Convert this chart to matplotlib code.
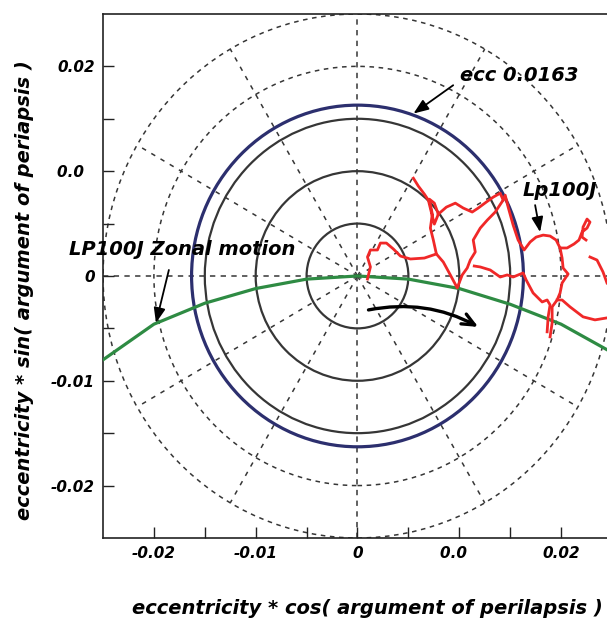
import numpy as np
import matplotlib
matplotlib.use("Agg")
import matplotlib.pyplot as plt
from matplotlib.patches import Circle

plt.rcParams['font.family'] = ['DejaVu Sans']

# Reference rings (eccentricity values)
solid_radii = [0.005, 0.010, 0.015]
dashed_radii = [0.020, 0.025]
ecc_radius = 0.0163
spoke_angles = [30, 60, 120, 150, 210, 240, 300, 330]
spoke_len = 0.025

# Zonal motion curve
green_x = [-0.025, -0.020, -0.015, -0.010, -0.005, 0.0, 0.005, 0.010, 0.015, 0.020, 0.025]
green_y = [-0.0080, -0.0046, -0.0026, -0.0012, -0.0003, 0.0, -0.0003, -0.0012, -0.0027, -0.0046, -0.0073]

# Lp100J trajectory, traced in pieces
lp_segments = [
    [(0.00549, 0.00933), (0.00598, 0.00857), (0.00657, 0.00781), (0.00696, 0.00724),
     (0.00725, 0.00610), (0.00755, 0.00495), (0.00794, 0.00590), (0.00755, 0.00695),
     (0.00706, 0.00733), (0.00735, 0.00590), (0.00716, 0.00457), (0.00745, 0.00343),
     (0.00775, 0.00210), (0.00657, 0.00171), (0.00520, 0.00162), (0.00422, 0.00190),
     (0.00353, 0.00257), (0.00284, 0.00314), (0.00225, 0.00314), (0.00196, 0.00248),
     (0.00127, 0.00248), (0.00098, 0.00181), (0.00127, 0.00086), (0.00098, -0.00029)],
    [(0.00775, 0.00210), (0.00843, 0.00133), (0.00912, 0.00010), (0.00980, -0.00114),
     (0.01029, 0.00010), (0.01078, 0.00076), (0.01108, 0.00152), (0.01157, 0.00229),
     (0.01137, 0.00343), (0.01206, 0.00457), (0.01275, 0.00533), (0.01353, 0.00610),
     (0.01431, 0.00724), (0.01402, 0.00790), (0.01333, 0.00752), (0.01265, 0.00705),
     (0.01186, 0.00648), (0.01127, 0.00610), (0.01039, 0.00648), (0.00961, 0.00695),
     (0.00873, 0.00657), (0.00794, 0.00590)],
    [(0.01431, 0.00724), (0.01451, 0.00771), (0.01480, 0.00657), (0.01529, 0.00486),
     (0.01578, 0.00343), (0.01637, 0.00248), (0.01696, 0.00324), (0.01755, 0.00371),
     (0.01824, 0.00390), (0.01892, 0.00381), (0.01951, 0.00343), (0.01990, 0.00267),
     (0.02059, 0.00267), (0.02127, 0.00305), (0.02176, 0.00343), (0.02206, 0.00419),
     (0.02255, 0.00457), (0.02284, 0.00514), (0.02255, 0.00543), (0.02216, 0.00467),
     (0.02206, 0.00371), (0.02245, 0.00343)],
    [(0.01990, 0.00267), (0.02010, 0.00171), (0.02020, 0.00076), (0.02069, 0.00019),
     (0.02010, -0.00067), (0.01990, -0.00162), (0.01961, -0.00229), (0.01912, -0.00295),
     (0.01912, -0.00448), (0.01892, -0.00581)],
    [(0.01961, -0.00229), (0.02010, -0.00229), (0.02088, -0.00295), (0.02216, -0.00390),
     (0.02333, -0.00419), (0.02451, -0.00400)],
    [(0.02284, 0.00181), (0.02353, 0.00152), (0.02412, 0.00038), (0.02451, -0.00067)],
    [(0.01147, 0.00095), (0.01206, 0.00086), (0.01304, 0.00057), (0.01402, -0.00010),
     (0.01471, 0.00010), (0.01529, -0.00010), (0.01627, 0.00029), (0.01657, -0.00038),
     (0.01725, -0.00162), (0.01814, -0.00248), (0.01863, -0.00229), (0.01892, -0.00276),
     (0.01873, -0.00390), (0.01863, -0.00533)],
]

# Motion arrow (start, end)
motion_start = (0.00108, -0.00324)
motion_end = (0.01186, -0.00486)

x_ticks = [-0.02, -0.01, 0.0, 0.01, 0.02]
x_ticklabels = ["-0.02", "-0.01", "0", "0.0\u2007", "0.02"]
y_ticks = [-0.02, -0.01, 0.0, 0.01, 0.02]
y_ticklabels = ["-0.02", "-0.01", "0", "0.0\u2007", "0.02"]

gray = '#363636'
navy = '#2c2f6e'
green = '#2e8b43'
red = '#f02828'
bold_it = dict(fontweight='bold', fontstyle='italic')

fig = plt.figure(figsize=(6.07, 6.21), dpi=100)
ax = fig.add_axes([0.1697, 0.1337, 0.8385, 0.8438])
ax.set_xlim(-0.025, 0.025)
ax.set_ylim(-0.025, 0.025)

# dashed grid: axes cross, rings, spokes
ax.axhline(0, color=gray, lw=1.1, ls=(0, (3.5, 3.5)), zorder=1)
ax.axvline(0, color=gray, lw=1.1, ls=(0, (3.5, 3.5)), zorder=1)
for r in dashed_radii:
    ax.add_patch(Circle((0, 0), r, fill=False, ec=gray, lw=1.1, ls=(0, (3, 3)), zorder=1))
for a in spoke_angles:
    t = np.deg2rad(a)
    ax.plot([0, spoke_len * np.cos(t)], [0, spoke_len * np.sin(t)],
            color=gray, lw=1.1, ls=(0, (3, 4)), zorder=1)

for r in solid_radii:
    ax.add_patch(Circle((0, 0), r, fill=False, ec=gray, lw=1.6, zorder=2))
ax.add_patch(Circle((0, 0), ecc_radius, fill=False, ec=navy, lw=2.3, zorder=3))

ax.plot(green_x, green_y, color=green, lw=2.3, zorder=4)

for seg in lp_segments:
    xs, ys = zip(*seg)
    ax.plot(xs, ys, color=red, lw=2.0, solid_joinstyle='round', zorder=5)

# curved motion arrow
ax.annotate("", xy=motion_end, xytext=motion_start,
            arrowprops=dict(arrowstyle='->,head_length=0.9,head_width=0.4',
                            connectionstyle='arc3,rad=-0.18', color='black',
                            lw=2.4, shrinkA=0, shrinkB=0), zorder=6)

# labelled annotations
arrow_kw = dict(arrowstyle='-|>,head_length=0.9,head_width=0.35', color='black',
                lw=1.3, shrinkA=0, shrinkB=0)
ax.annotate("", xy=(0.0055, 0.0155), xytext=(0.0094, 0.0182), arrowprops=arrow_kw, zorder=7)
ax.text(0.0101, 0.0191, "ecc 0.0163", fontsize=14, ha='left', va='center', **bold_it)
ax.annotate("", xy=(0.01794, 0.00419), xytext=(0.01745, 0.00676), arrowprops=arrow_kw, zorder=7)
ax.text(0.01618, 0.0082, "Lp100J", fontsize=14, ha='left', va='center', **bold_it)
ax.annotate("", xy=(-0.0198, -0.00448), xytext=(-0.01853, 0.00057), arrowprops=arrow_kw,
            zorder=7, annotation_clip=False)
ax.text(-0.02833, 0.0025, "LP100J Zonal motion", fontsize=14, ha='left', va='center',
        clip_on=False, **bold_it)

ax.set_xticks(x_ticks)
ax.set_xticklabels(x_ticklabels)
ax.set_yticks(y_ticks)
ax.set_yticklabels(y_ticklabels)
ax.set_xticks([-0.015, -0.005, 0.005, 0.015], minor=True)
ax.set_yticks([-0.015, -0.005, 0.005, 0.015], minor=True)
ax.tick_params(which='both', direction='in', length=8, width=1, color='#222222')
ax.tick_params(axis='x', pad=6)
ax.tick_params(axis='y', pad=6)
for lab in ax.get_xticklabels() + ax.get_yticklabels():
    lab.set_fontsize(11)
    lab.set_fontweight('bold')
    lab.set_fontstyle('italic')
for s in ax.spines.values():
    s.set_linewidth(1.2)
    s.set_color('#222222')
ax.spines['right'].set_visible(False)

fig.text(0.605, 1 - 608 / 621, "eccentricity * cos( argument of perilapsis )",
         fontsize=14, ha='center', va='center', **bold_it)
fig.text(25 / 607, 1 - 290 / 621, "eccentricity * sin( argument of periapsis )",
         fontsize=14, ha='center', va='center', rotation=90, **bold_it)

fig.savefig("out.png", dpi=100)
